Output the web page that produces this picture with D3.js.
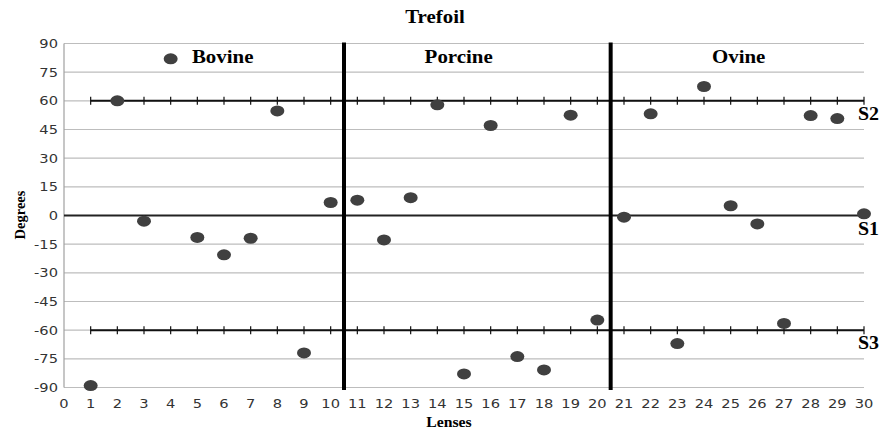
<!DOCTYPE html>
<html>
<head>
<meta charset="utf-8">
<script src="https://cdn.jsdelivr.net/npm/d3@7"></script>
<style>
  body { margin: 0; background: #fff; }
  .tick-lbl { font-family: "DejaVu Sans", Verdana, sans-serif; font-size: 12px; fill: #333; }
  .serif { font-family: "Liberation Serif", "Times New Roman", serif; font-weight: bold; fill: #000; }
</style>
</head>
<body>
<div id="chart"></div>
<script>
// lens number and measured angle (degrees)
const lenses = d3.range(1, 31);
const degrees = [-89, 60, -3, 82, -11.5, -20.6, -11.9, 54.7, -71.9, 6.8,
                 8, -12.8, 9.3, 57.9, -82.9, 47.1, -73.8, -80.8, 52.5, -54.7,
                 -0.9, 53.2, -67, 67.5, 5.1, -4.4, -56.5, 52.3, 50.7, 0.9];
const groups = ['Bovine', 'Porcine', 'Ovine'];
const groupCenters = [5.95, 14.8, 25.3];
const dividers = [10.5, 20.5];
const refLines = [
  { name: 'S2', value: 60, ticks: true },
  { name: 'S1', value: 0, ticks: false },
  { name: 'S3', value: -60, ticks: true }
];
const yTicks = d3.range(-90, 91, 15);
const xTicks = d3.range(0, 31, 1);

const W = 882, H = 431;
const svg = d3.select('#chart').append('svg').attr('width', W).attr('height', H);

const x = d3.scaleLinear().domain([0, 30]).range([64, 864]);
const y = d3.scaleLinear().domain([-90, 90]).range([387.5, 43.5]);

// the source picture is a bit stretched sideways, so text gets a scaleX
function label(g, tx, ty, str, cls, size, anchor, sx) {
  return g.append('text').attr('class', cls)
    .attr('transform', `translate(${tx},${ty}) scale(${sx},1)`)
    .attr('text-anchor', anchor)
    .style('font-size', size + 'px')
    .text(str);
}

// gridlines
svg.append('g').selectAll('line').data(yTicks).join('line')
  .attr('x1', x(0)).attr('x2', x(30))
  .attr('y1', d => y(d)).attr('y2', d => y(d))
  .attr('stroke', '#bdbdbd').attr('stroke-width', 1.2);

// left axis line
svg.append('line')
  .attr('x1', x(0)).attr('x2', x(0)).attr('y1', y(90)).attr('y2', y(-90))
  .attr('stroke', '#a0a0a0').attr('stroke-width', 1.2);

// tick labels
const gy = svg.append('g');
yTicks.forEach(d => label(gy, 58, y(d) + 4.5, d, 'tick-lbl', 12, 'end', 1.22));
const gx = svg.append('g');
xTicks.forEach(d => label(gx, x(d), 408, d, 'tick-lbl', 12, 'middle', 1.22));

// reference lines S1, S2, S3
refLines.forEach(r => {
  svg.append('line')
    .attr('x1', r.ticks ? x(1) : x(0)).attr('x2', x(30))
    .attr('y1', y(r.value)).attr('y2', y(r.value))
    .attr('stroke', r.ticks ? '#111' : '#222').attr('stroke-width', 2);
  if (r.ticks) {
    svg.append('g').selectAll('line').data(lenses).join('line')
      .attr('x1', d => x(d)).attr('x2', d => x(d))
      .attr('y1', y(r.value) - 4).attr('y2', y(r.value) + 4)
      .attr('stroke', '#111').attr('stroke-width', 1.2);
  }
  label(svg, 858, y(r.value) + 19, r.name, 'serif', 19, 'start', 1.05);
});

// group dividers
svg.append('g').selectAll('line').data(dividers).join('line')
  .attr('x1', d => x(d)).attr('x2', d => x(d))
  .attr('y1', y(90) - 1).attr('y2', 390)
  .attr('stroke', '#000').attr('stroke-width', 4);

// group labels
groups.forEach((d, i) => label(svg, x(groupCenters[i]), 63, d, 'serif', 19, 'middle', 1.1));

// data points
svg.append('g').selectAll('ellipse').data(lenses).join('ellipse')
  .attr('cx', d => x(d)).attr('cy', (d, i) => y(degrees[i]))
  .attr('rx', 7).attr('ry', 5.5)
  .attr('fill', '#404040');

// title and axis titles
label(svg, 435, 23, 'Trefoil', 'serif', 19, 'middle', 1.1);
label(svg, 449, 427, 'Lenses', 'serif', 15, 'middle', 1.05);

svg.append('text').attr('class', 'serif')
  .attr('transform', 'translate(25,215) rotate(-90)')
  .attr('text-anchor', 'middle')
  .style('font-size', '14.5px')
  .text('Degrees');
</script>
</body>
</html>
